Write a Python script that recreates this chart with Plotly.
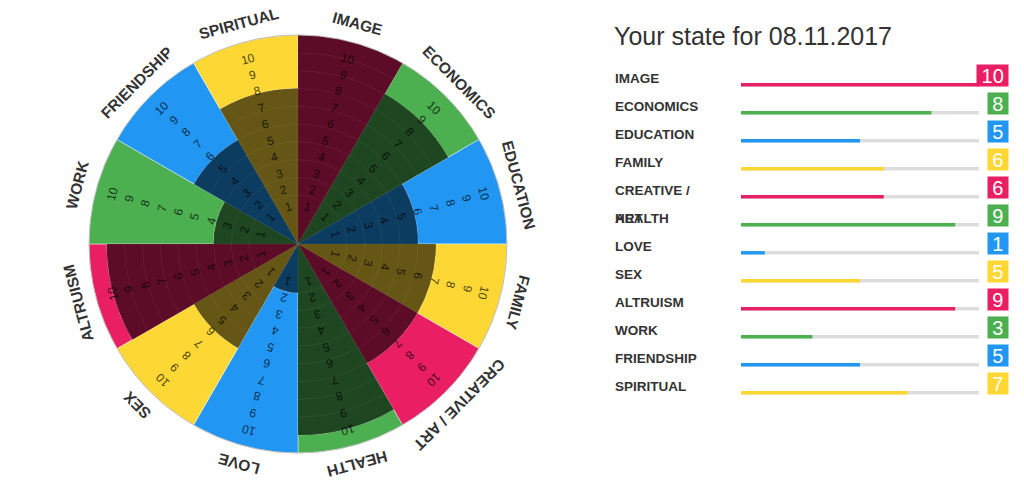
import math
import textwrap
import plotly.graph_objects as go

# ---------------- data ----------------
categories = ["IMAGE", "ECONOMICS", "EDUCATION", "FAMILY", "CREATIVE / ART", "HEALTH",
              "LOVE", "SEX", "ALTRUISM", "WORK", "FRIENDSHIP", "SPIRITUAL"]
values = [10, 8, 5, 6, 6, 9, 1, 5, 9, 3, 5, 7]
levels = list(range(1, 11))
title_text = "Your state for 08.11.2017"

# ---------------- style ----------------
palette = ["#E91E63", "#4CAF50", "#2196F3", "#FDD835"]
FONT = "Liberation Sans, Arial, sans-serif"
W, H = 1024, 495
CX, CY = 298, 244          # wheel centre (px from top-left)
RPX = 209                  # wheel radius in px
R_MIN, R_MAX = -1.742, 10  # radial axis range (centre fill for level 1)
K = RPX / (R_MAX - R_MIN)  # px per radial unit


def darken(hx, f=0.4):
    hx = hx.lstrip("#")
    r, g, b = (int(hx[i:i + 2], 16) for i in (0, 2, 4))
    return "rgb(%d,%d,%d)" % (r * f, g * f, b * f)


n = len(categories)
step = 360 / n
theta_c = [step * i + step / 2 for i in range(n)]
sector_colors = [palette[i % 4] for i in range(n)]
dark_colors = [darken(c) for c in sector_colors]

# dark (achieved) rings
d_theta, d_base, d_r, d_col = [], [], [], []
for i, v in enumerate(values):
    for lv in levels:
        if lv <= v:
            lo = R_MIN if lv == 1 else lv - 1
            d_theta.append(theta_c[i])
            d_base.append(lo)
            d_r.append(lv - lo)
            d_col.append(dark_colors[i])

# bright (remaining) blocks
b_theta, b_base, b_r, b_col = [], [], [], []
for i, v in enumerate(values):
    if v < R_MAX:
        b_theta.append(theta_c[i])
        b_base.append(v)
        b_r.append(R_MAX - v)
        b_col.append(sector_colors[i])

fig = go.Figure()
fig.add_trace(go.Barpolar(theta=b_theta, r=b_r, base=b_base, width=[step] * len(b_theta),
                          marker=dict(color=b_col, line=dict(color="rgba(255,255,255,0.55)", width=0.8)),
                          hoverinfo="skip", showlegend=False))
# solid dark underlay (avoids white seams between rings)
fig.add_trace(go.Barpolar(theta=theta_c, r=[v - R_MIN for v in values], base=[R_MIN] * n,
                          width=[step] * n,
                          marker=dict(color=dark_colors, line=dict(color="rgba(255,255,255,0.3)", width=0.6)),
                          hoverinfo="skip", showlegend=False))
fig.add_trace(go.Barpolar(theta=d_theta, r=d_r, base=d_base, width=[step] * len(d_theta),
                          marker=dict(color=d_col, line=dict(color="rgba(255,255,255,0.09)", width=0.5)),
                          hoverinfo="skip", showlegend=False))

annotations = []
# level numbers inside the wheel (cartesian overlay, same scale as the wheel)
for i in range(n):
    a = math.radians(theta_c[i])
    for lv in levels:
        rr = (0.958 * lv - 0.535) - R_MIN
        annotations.append(dict(x=rr * math.sin(a), y=rr * math.cos(a), xref="x", yref="y",
                                text=str(lv), showarrow=False, textangle=theta_c[i],
                                xanchor="center", yanchor="middle",
                                font=dict(family=FONT, size=12, color="rgba(0,0,0,0.72)")))
# category labels around the wheel
for i, cat in enumerate(categories):
    a = math.radians(theta_c[i])
    rr = (RPX + 19) / K
    annotations.append(dict(x=rr * math.sin(a), y=rr * math.cos(a), xref="x", yref="y",
                            text=cat, showarrow=False, textangle=theta_c[i],
                            xanchor="center", yanchor="middle",
                            font=dict(family=FONT, size=15.5, color="#333333", weight="bold")))

# ---------------- right panel ----------------
idx = list(range(n))
ROW = 28.0
BAR_TOP_PX = 84.8
y2_top = -BAR_TOP_PX / ROW
y2_bot = y2_top + H / ROW
bar_w = 3.4 / ROW

fig.add_trace(go.Bar(x=[R_MAX] * n, y=idx, base=0, orientation="h", width=bar_w,
                     marker=dict(color="#dddddd", line=dict(width=0)),
                     xaxis="x2", yaxis="y2", hoverinfo="skip", showlegend=False))
fig.add_trace(go.Bar(x=values, y=idx, base=0, orientation="h", width=bar_w,
                     marker=dict(color=sector_colors, line=dict(width=0)),
                     xaxis="x2", yaxis="y2", hoverinfo="skip", showlegend=False))

for i, cat in enumerate(categories):
    for k, part in enumerate(textwrap.wrap(cat, 11)):
        annotations.append(dict(x=612.7 / W, xref="paper", y=i + k - 6 / ROW, yref="y2",
                                text=part, showarrow=False, xanchor="left", yanchor="middle",
                                font=dict(family=FONT, size=13.5, color="#333333", weight="bold")))
    s = str(values[i])
    annotations.append(dict(x=1008.7 / W, xref="paper", y=i - 9 / ROW, yref="y2",
                            text=s, showarrow=False, xanchor="right", yanchor="middle",
                            width=8 + 11.7 * len(s), height=21, borderpad=0,
                            bgcolor=sector_colors[i], align="center", valign="middle",
                            font=dict(family=FONT, size=20, color="#ffffff")))

annotations.append(dict(x=612 / W, xref="paper", y=1 - 36 / H, yref="paper", text=title_text,
                        showarrow=False, xanchor="left", yanchor="middle",
                        font=dict(family=FONT, size=25, color="#333333")))

fig.update_layout(
    width=W, height=H, margin=dict(l=0, r=0, t=0, b=0),
    paper_bgcolor="white", plot_bgcolor="rgba(0,0,0,0)",
    barmode="overlay",
    polar=dict(
        domain=dict(x=[(CX - RPX) / W, (CX + RPX) / W],
                    y=[(H - CY - RPX) / H, (H - CY + RPX) / H]),
        bgcolor="rgba(0,0,0,0)", bargap=0,
        radialaxis=dict(range=[R_MIN, R_MAX], visible=False),
        angularaxis=dict(direction="clockwise", rotation=90, showticklabels=False, ticks="",
                         showgrid=False, showline=True, linecolor="#bdbdbd", linewidth=1),
    ),
    xaxis=dict(domain=[0, 1], range=[-CX / K, (W - CX) / K], visible=False, fixedrange=True),
    yaxis=dict(domain=[0, 1], range=[-(H - CY) / K, CY / K], visible=False, fixedrange=True),
    xaxis2=dict(domain=[741 / W, 979 / W], range=[0, R_MAX], visible=False, anchor="y2",
                fixedrange=True),
    yaxis2=dict(domain=[0, 1], range=[y2_bot, y2_top], visible=False, anchor="x2",
                fixedrange=True),
    annotations=annotations,
)
# empty trace to keep the overlay axes alive
fig.add_trace(go.Scatter(x=[], y=[], xaxis="x", yaxis="y", showlegend=False, hoverinfo="skip"))

fig.write_html("out.html")
